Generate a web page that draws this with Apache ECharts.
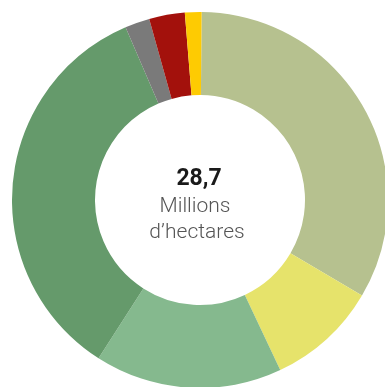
<!DOCTYPE html>
<html>
<head>
<meta charset="utf-8">
<script src="https://cdn.jsdelivr.net/npm/echarts@6/dist/echarts.min.js"></script>
<style>
  html, body { margin: 0; padding: 0; background: #ffffff; }
  #chart { width: 385px; height: 387px; }
</style>
</head>
<body>
<div id="chart"></div>
<script>
// Répartition de la surface agricole (millions d'hectares), dans le sens horaire depuis midi
const categories = [
  'Céréales',
  'Oléoprotéagineux',
  'Prairies temporaires et fourrages',
  'Prairies permanentes',
  'Jachères',
  'Vignes',
  'Autres cultures'
];
const values = [9.57, 2.73, 4.62, 9.89, 0.61, 0.88, 0.41];
const colors = ['#b6c18f', '#e6e36b', '#85b98e', '#659a6b', '#7a7a7a', '#a3110c', '#fecb02'];
const totalLabel = '28,7';
const unitLines = ['Millions', 'd\u2019hectares'];

const chart = echarts.init(document.getElementById('chart'), null, { renderer: 'canvas' });

chart.setOption({
  animation: false,
  backgroundColor: '#ffffff',
  series: [{
    type: 'pie',
    center: [200, 200],
    radius: [105, 188],
    startAngle: 89.5,
    clockwise: true,
    silent: true,
    label: { show: false },
    labelLine: { show: false },
    itemStyle: { borderWidth: 0 },
    data: categories.map((name, i) => ({
      name: name,
      value: values[i],
      itemStyle: { color: colors[i] }
    }))
  }],
  graphic: [
    {
      type: 'text',
      x: 199, y: 179,
      style: {
        text: totalLabel,
        font: 'bold 23px Roboto, sans-serif',
        fill: '#1a1a1a',
        align: 'center',
        verticalAlign: 'middle'
      }
    },
    {
      type: 'text',
      x: 195, y: 207,
      style: {
        text: unitLines[0],
        font: '300 21px Roboto, sans-serif',
        fill: '#555555',
        align: 'center',
        verticalAlign: 'middle'
      }
    },
    {
      type: 'text',
      x: 197, y: 233,
      style: {
        text: unitLines[1],
        font: '300 21px Roboto, sans-serif',
        fill: '#555555',
        align: 'center',
        verticalAlign: 'middle'
      }
    }
  ]
});
</script>
</body>
</html>
